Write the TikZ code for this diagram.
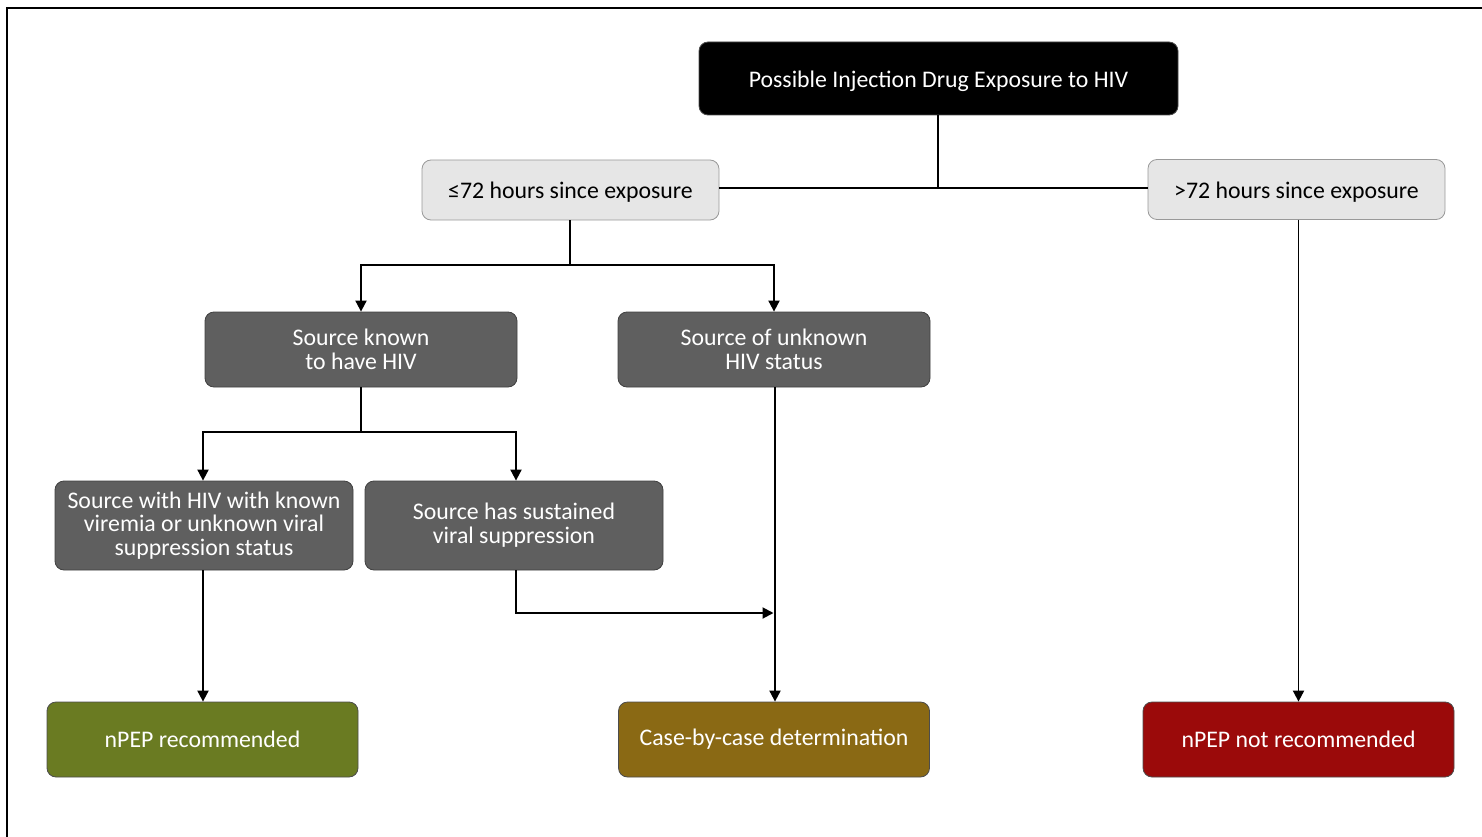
\documentclass[tikz,border=0pt]{standalone}
\usepackage{fontspec}
\setmainfont{Carlito}
\usetikzlibrary{arrows.meta}
\definecolor{lightbox}{HTML}{E6E6E6}
\definecolor{darkbox}{HTML}{5F5F5F}
\definecolor{greenbox}{HTML}{6A7B22}
\definecolor{ochrebox}{HTML}{8A6914}
\definecolor{redbox}{HTML}{9B0A0A}
% lower a one-line label slightly inside its box, keeping its box size
\newcommand{\lowered}[1]{\raisebox{-2.5pt}[\height][\depth]{#1}}
\begin{document}
\begin{tikzpicture}[x=1pt,y=-1pt,
  base/.style={rounded corners=9pt, align=center, inner sep=0pt,
    font=\fontsize{23.8}{23.8}\selectfont, line width=0.8pt},
  headbox/.style={base, fill=black, draw=gray!60!black, text=white,
    minimum width=479pt, minimum height=73pt},
  timebox/.style={base, fill=lightbox, draw=gray!80, text=black,
    minimum width=297pt, minimum height=60pt},
  srcbox/.style={base, fill=darkbox, draw=gray!50!black, text=white,
    minimum width=312pt, minimum height=75pt},
  subbox/.style={base, fill=darkbox, draw=gray!50!black, text=white,
    minimum width=298pt, minimum height=89pt},
  outbox/.style={base, draw=gray!60!black, text=white,
    minimum width=311pt, minimum height=75pt},
  link/.style={line width=1.9pt, black},
  arr/.style={link, -{Triangle[length=11pt,width=11pt]}}
]
\useasboundingbox (0,0) rectangle (1482,837);
% frame along the top and left edges
\draw[line width=2pt] (7,837) -- (7,8) -- (1482,8);

\node[headbox] (top) at (938.5,78.5) {\lowered{Possible Injection Drug Exposure to HIV}};
\node[timebox] (le) at (570.5,190) {\lowered{≤72 hours since exposure}};
\node[timebox] (gt) at (1296.5,189.5) {\lowered{>72 hours since exposure}};
\node[srcbox] (known) at (361,349.5) {Source known\\to have HIV};
\node[srcbox] (unknown) at (774,349.5) {Source of unknown\\HIV status};
\node[subbox] (viremia) at (204,525.5) {Source with HIV with known\\viremia or unknown viral\\suppression status};
\node[subbox] (supp) at (514,525.5) {Source has sustained\\viral suppression};
\node[outbox, fill=greenbox] (rec) at (202.5,739.5) {nPEP recommended};
\node[outbox, fill=ochrebox] (case) at (774,739.5) {Case-by-case determination};
\node[outbox, fill=redbox] (notrec) at (1298.5,739.5) {nPEP not recommended};

% branch points
\coordinate (j0) at (938,188);
\coordinate (j1) at (570,265);
\coordinate (j2) at (361,432);
\coordinate (j3) at (775,613);

% time since exposure
\draw[link] (top.south -| j0) -- (j0);
\draw[link] (le.east |- j0) -- (gt.west |- j0);

% source status
\draw[link] (le.south -| j1) -- (j1);
\draw[arr] (j1) -| (known.north);
\draw[arr] (j1) -| (unknown.north);

% viral load of a source with HIV
\draw[link] (known.south) -- (j2);
\draw[arr] (j2) -| ([xshift=-1pt]viremia.north);
\draw[arr] (j2) -| ([xshift=2pt]supp.north);

% outcomes
\draw[arr] ([xshift=-1pt]viremia.south) -- ([xshift=-1pt]viremia.south |- rec.north);
\draw[arr] ([xshift=2pt]supp.south) |- ([xshift=-1.5pt]j3);
\draw[arr] ([xshift=1pt]unknown.south) -- ([xshift=1pt]unknown.south |- case.north);
\draw[arr] (notrec.north |- gt.south) -- (notrec.north);
\end{tikzpicture}
\end{document}
